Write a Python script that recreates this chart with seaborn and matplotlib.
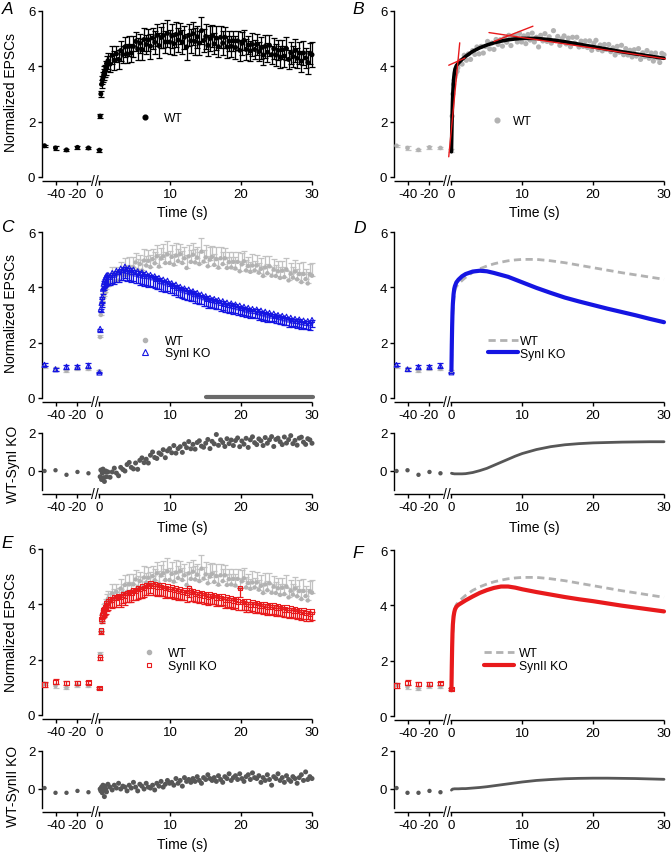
import numpy as np
import matplotlib
matplotlib.use("Agg")
import matplotlib.pyplot as plt
from matplotlib.lines import Line2D
import seaborn as sns

# ---------------- data ----------------
t_pre = [-50, -40, -30, -20, -10, 0]
t_pre_diff = [-50, -40, -30, -20, -10]
t_post = np.concatenate([np.round(np.arange(0.1, 1.01, 0.1), 1),
                         np.round(np.arange(1.2, 30.01, 0.3), 1)])
t_fit = [0, 0.05, 0.1, 0.15, 0.2, 0.3, 0.4, 0.5, 0.7, 1, 1.5, 2, 3, 4, 5, 6, 7, 8,
         9, 10, 12, 14, 16, 18, 20, 22, 24, 26, 28, 30]

wt_pre = [1.13, 1.05, 0.98, 1.07, 1.05, 0.97]
wt_pre_sem = [0.04, 0.06, 0.05, 0.04, 0.04, 0.06]
synI_pre = [1.2, 1.04, 1.13, 1.13, 1.17, 0.92]
synI_pre_sem = [0.05, 0.05, 0.07, 0.08, 0.1, 0.03]
synII_pre = [1.1, 1.2, 1.15, 1.15, 1.18, 0.98]
synII_pre_sem = [0.1, 0.09, 0.07, 0.08, 0.06, 0.03]
diff1_pre = [0.0, 0.04, -0.2, -0.05, -0.12]
diff2_pre = [0.05, -0.2, -0.2, -0.1, -0.17]

wt_mean = [2.2, 3.0, 3.35, 3.5, 3.6, 3.7, 3.8, 3.82, 3.95, 4.1,
           4.2, 4.08, 4.4, 4.22, 4.45, 4.25, 4.57, 4.43, 4.7, 4.45,
           4.72, 4.48, 4.72, 4.9, 4.63, 4.84, 4.61, 4.97, 4.79, 4.96,
           4.73, 5.02, 4.87, 5.12, 4.75, 5.04, 5.12, 4.88, 5.19, 4.88,
           5.1, 4.82, 5.15, 4.95, 5.2, 4.88, 5.05, 4.7, 5.12, 4.92,
           5.18, 4.9, 5.07, 4.84, 5.29, 4.93, 5.08, 4.76, 5.0, 5.1,
           4.81, 5.02, 4.71, 5.05, 4.84, 5.05, 4.7, 4.91, 4.72, 4.92,
           4.68, 4.92, 4.58, 4.83, 4.94, 4.61, 4.77, 4.56, 4.79, 4.61,
           4.79, 4.53, 4.67, 4.41, 4.72, 4.51, 4.76, 4.42, 4.64, 4.41,
           4.58, 4.34, 4.6, 4.37, 4.64, 4.25, 4.49, 4.35, 4.57, 4.29,
           4.48, 4.19, 4.48, 4.3, 4.14, 4.47, 4.42]
wt_sem = [0.08, 0.12, 0.15, 0.15, 0.18, 0.2, 0.2, 0.22, 0.25, 0.28,
          0.3, 0.28, 0.32, 0.35, 0.3, 0.33, 0.36, 0.3, 0.35, 0.34,
          0.36, 0.32, 0.38, 0.35, 0.4, 0.34, 0.38, 0.42, 0.36, 0.4,
          0.45, 0.38, 0.42, 0.4, 0.46, 0.38, 0.44, 0.4, 0.48, 0.42,
          0.44, 0.4, 0.46, 0.42, 0.38, 0.45, 0.41, 0.47, 0.4, 0.43,
          0.42, 0.48, 0.4, 0.44, 0.5, 0.41, 0.46, 0.38, 0.44, 0.4,
          0.38, 0.42, 0.36, 0.4, 0.44, 0.37, 0.41, 0.35, 0.39, 0.36,
          0.4, 0.34, 0.38, 0.42, 0.36, 0.39, 0.33, 0.37, 0.41, 0.35,
          0.38, 0.34, 0.4, 0.36, 0.42, 0.35, 0.38, 0.33, 0.37, 0.4,
          0.36, 0.39, 0.34, 0.38, 0.42, 0.35, 0.4, 0.37, 0.43, 0.36,
          0.4, 0.38, 0.44, 0.37, 0.41, 0.39, 0.45]
synI_mean = [2.5, 3.22, 3.44, 3.65, 3.95, 4.13, 4.22, 4.3, 4.36, 4.43,
             4.45, 4.38, 4.52, 4.46, 4.6, 4.55, 4.68, 4.62, 4.75, 4.6,
             4.7, 4.56, 4.64, 4.5, 4.58, 4.46, 4.54, 4.42, 4.5, 4.4,
             4.45, 4.36, 4.4, 4.3, 4.34, 4.22, 4.28, 4.18, 4.24, 4.12,
             4.15, 4.05, 4.1, 3.98, 4.02, 3.92, 3.96, 3.86, 3.92, 3.82,
             3.86, 3.75, 3.8, 3.7, 3.74, 3.64, 3.68, 3.58, 3.62, 3.54,
             3.58, 3.5, 3.54, 3.44, 3.5, 3.4, 3.45, 3.36, 3.42, 3.32,
             3.38, 3.28, 3.34, 3.25, 3.3, 3.2, 3.26, 3.16, 3.22, 3.14,
             3.2, 3.1, 3.16, 3.06, 3.12, 3.02, 3.08, 2.98, 3.05, 2.96,
             3.0, 2.92, 2.97, 2.88, 2.94, 2.84, 2.9, 2.8, 2.86, 2.78,
             2.84, 2.74, 2.8, 2.72, 2.78, 2.7, 2.82]
synI_sem = [0.1, 0.12, 0.15, 0.18, 0.2, 0.22, 0.25, 0.28, 0.3, 0.32,
            0.35, 0.3, 0.38, 0.33, 0.4, 0.36, 0.42, 0.35, 0.4, 0.38,
            0.42, 0.36, 0.4, 0.35, 0.44, 0.38, 0.41, 0.36, 0.43, 0.37,
            0.4, 0.35, 0.42, 0.36, 0.39, 0.34, 0.41, 0.36, 0.38, 0.33,
            0.37, 0.33, 0.39, 0.34, 0.36, 0.32, 0.38, 0.33, 0.36, 0.31,
            0.35, 0.31, 0.36, 0.32, 0.34, 0.3, 0.35, 0.31, 0.33, 0.3,
            0.34, 0.3, 0.33, 0.29, 0.32, 0.28, 0.33, 0.29, 0.31, 0.28,
            0.32, 0.28, 0.31, 0.27, 0.3, 0.27, 0.31, 0.28, 0.3, 0.26,
            0.3, 0.27, 0.29, 0.26, 0.3, 0.27, 0.29, 0.25, 0.28, 0.26,
            0.29, 0.26, 0.28, 0.25, 0.29, 0.26, 0.28, 0.25, 0.27, 0.25,
            0.28, 0.25, 0.27, 0.24, 0.27, 0.25, 0.26]
synII_mean = [2.08, 3.05, 3.47, 3.6, 3.71, 3.78, 3.83, 3.9, 3.95, 4.05,
              4.12, 4.2, 4.15, 4.25, 4.22, 4.3, 4.26, 4.36, 4.32, 4.4,
              4.45, 4.4, 4.52, 4.48, 4.58, 4.55, 4.64, 4.6, 4.7, 4.66,
              4.78, 4.68, 4.74, 4.65, 4.7, 4.62, 4.68, 4.58, 4.64, 4.56,
              4.62, 4.52, 4.58, 4.48, 4.55, 4.45, 4.52, 4.42, 4.6, 4.44,
              4.48, 4.38, 4.44, 4.35, 4.42, 4.32, 4.38, 4.28, 4.36, 4.3,
              4.34, 4.25, 4.3, 4.22, 4.28, 4.18, 4.25, 4.15, 4.22, 4.14,
              4.2, 4.1, 4.6, 4.08, 4.12, 4.02, 4.1, 4.0, 4.08, 4.0,
              4.05, 3.96, 4.02, 3.94, 4.0, 3.92, 3.98, 3.9, 3.96, 3.88,
              3.94, 3.86, 3.9, 3.82, 3.88, 3.8, 3.86, 3.78, 3.84, 3.76,
              3.8, 3.72, 3.78, 3.68, 3.76, 3.66, 3.74]
synII_sem = [0.1, 0.12, 0.15, 0.2, 0.22, 0.25, 0.26, 0.28, 0.3, 0.3,
             0.32, 0.28, 0.3, 0.34, 0.3, 0.33, 0.35, 0.3, 0.34, 0.32,
             0.36, 0.32, 0.38, 0.34, 0.37, 0.33, 0.4, 0.35, 0.38, 0.34,
             0.38, 0.34, 0.4, 0.35, 0.37, 0.33, 0.39, 0.34, 0.36, 0.33,
             0.37, 0.33, 0.36, 0.32, 0.35, 0.31, 0.36, 0.32, 0.34, 0.31,
             0.35, 0.31, 0.34, 0.3, 0.35, 0.31, 0.33, 0.3, 0.34, 0.3,
             0.33, 0.3, 0.34, 0.29, 0.32, 0.3, 0.33, 0.29, 0.32, 0.3,
             0.33, 0.29, 0.32, 0.3, 0.34, 0.29, 0.32, 0.28, 0.33, 0.3,
             0.32, 0.29, 0.33, 0.28, 0.31, 0.29, 0.32, 0.28, 0.31, 0.29,
             0.32, 0.28, 0.31, 0.29, 0.33, 0.28, 0.31, 0.29, 0.32, 0.28,
             0.31, 0.28, 0.32, 0.29, 0.3, 0.28, 0.31]
diff1 = [-0.3, 0.05, -0.45, -0.1, 0.1, -0.35, -0.55, -0.05, 0.0, -0.3,
         -0.05, -0.33, -0.05, 0.15, -0.11, -0.25, 0.19, 0.08, 0.0, 0.34,
         0.45, 0.19, 0.11, 0.42, 0.09, 0.56, 0.69, 0.44, 0.62, 0.42,
         0.83, 1.0, 0.71, 0.66, 0.95, 0.87, 1.12, 0.7, 1.06, 1.18,
         0.96, 1.34, 0.94, 1.18, 1.28, 0.98, 1.42, 1.23, 1.55, 1.17,
         1.4, 1.15, 1.5, 1.59, 1.31, 1.25, 1.46, 1.66, 1.18, 1.56,
         1.43, 1.92, 1.35, 1.64, 1.5, 1.29, 1.7, 1.44, 1.63, 1.34,
         1.6, 1.74, 1.28, 1.58, 1.41, 1.72, 1.24, 1.64, 1.8, 1.49,
         1.39, 1.69, 1.59, 1.34, 1.76, 1.46, 1.64, 1.81, 1.29, 1.66,
         1.73, 1.54, 1.39, 1.79, 1.47, 1.65, 1.86, 1.44, 1.61, 1.36,
         1.73, 1.78, 1.52, 1.4, 1.7, 1.64, 1.46]
diff2 = [0.0, -0.1, 0.1, -0.2, 0.2, -0.05, -0.4, 0.15, 0.0, -0.15,
         0.25, 0.1, -0.05, 0.2, 0.05, 0.3, 0.0, 0.15, 0.1, -0.1,
         0.2, 0.05, 0.35, 0.1, -0.1, 0.25, 0.15, 0.0, 0.3, 0.1,
         0.05, 0.2, -0.05, 0.3, 0.15, 0.4, 0.1, 0.25, 0.45, 0.3,
         0.35, 0.2, 0.55, 0.3, 0.45, 0.15, 0.6, 0.4, 0.5, 0.35,
         0.55, 0.4, 0.65, 0.45, 0.3, 0.6, 0.5, 0.75, 0.55, 0.45,
         0.6, 0.4, 0.7, 0.5, 0.35, 0.65, 0.55, 0.8, 0.45, 0.6,
         0.7, 0.5, 0.8, 0.55, 0.4, 0.65, 0.75, 0.5, 0.85, 0.6,
         0.55, 0.7, 0.35, 0.6, 0.45, 0.75, 0.5, 0.2, 0.65, 0.55,
         0.8, 0.45, 0.6, 0.35, 0.7, 0.5, 0.4, 0.65, 0.55, 0.3,
         0.6, 0.75, 0.45, 0.9, 0.5, 0.65, 0.55]

wt_fit = [0.91, 1.6, 2.2, 2.7, 3.05, 3.5, 3.75, 3.9, 4.03, 4.12, 4.25, 4.36, 4.54,
          4.67, 4.77, 4.85, 4.91, 4.96, 4.99, 5.01, 5.01, 4.96, 4.89, 4.8, 4.71,
          4.62, 4.53, 4.45, 4.37, 4.29]
synI_fit = [1.0, 1.9, 2.6, 3.1, 3.4, 3.75, 3.95, 4.05, 4.18, 4.28, 4.4, 4.48, 4.57,
            4.6, 4.58, 4.52, 4.45, 4.38, 4.28, 4.18, 3.98, 3.8, 3.63, 3.49, 3.36,
            3.23, 3.11, 2.99, 2.86, 2.74]
synII_fit = [0.93, 1.8, 2.5, 3.0, 3.3, 3.6, 3.75, 3.85, 3.95, 4.02, 4.1, 4.18, 4.32,
             4.45, 4.55, 4.63, 4.68, 4.68, 4.64, 4.58, 4.48, 4.39, 4.3, 4.22, 4.15,
             4.07, 3.99, 3.92, 3.85, 3.78]
diff1_fit = [-0.12, -0.12, -0.13, -0.13, -0.14, -0.14, -0.15, -0.15, -0.15, -0.15,
             -0.15, -0.14, -0.08, 0.02, 0.14, 0.3, 0.46, 0.62, 0.78, 0.92, 1.13,
             1.28, 1.38, 1.44, 1.48, 1.5, 1.52, 1.53, 1.54, 1.54]
diff2_fit = [-0.06, -0.04, -0.02, -0.01, 0.0, 0.0, 0.01, 0.01, 0.01, 0.01, 0.02,
             0.02, 0.05, 0.08, 0.12, 0.17, 0.22, 0.27, 0.32, 0.37, 0.45, 0.5, 0.54,
             0.56, 0.57, 0.57, 0.56, 0.55, 0.53, 0.51]

# tangent lines of the WT fit (panel B)
tan1_t, tan1_y = [-2.45, 1.17], [0.73, 4.85]
tan2_t, tan2_y = [-2.45, 1.9], [4.04, 4.3]
tan3_t, tan3_y = [6.0, 11.5], [4.9, 5.45]
tan4_t, tan4_y = [5.3, 30.2], [5.22, 4.27]
sig_range = [15, 30.2]

x_ticks = [-40, -20, 0, 10, 20, 30]
x_ticklabels = ["-40", "-20", "0", "10", "20", "30"]

for arr in (wt_mean, wt_sem, synI_mean, synI_sem, synII_mean, synII_sem, diff1, diff2):
    assert len(arr) == len(t_post), len(arr)

# ---------------- style ----------------
sns.set_theme(style="ticks")
plt.rcParams["font.family"] = ["Liberation Sans", "DejaVu Sans"]
plt.rcParams["axes.unicode_minus"] = False
plt.rcParams["axes.edgecolor"] = "black"
plt.rcParams["xtick.color"] = "black"
plt.rcParams["ytick.color"] = "black"
plt.rcParams["text.color"] = "black"

BLACK = "#000000"
GRAY = "#b2b2b2"
GRAY_ERR = "#c2c2c2"
DARK = "#575757"
BLUE = "#1515e2"
RED = "#e81a1c"

W, H = 672, 854
fig = plt.figure(figsize=(W / 100, H / 100), dpi=100)
fig.patch.set_facecolor("white")

K = 0.155
XMIN, XMAX = -52.3, 30


def fwd(t):
    t = np.asarray(t, dtype=float)
    return np.where(t < 0, t * K, t)


def inv(u):
    u = np.asarray(u, dtype=float)
    return np.where(u < 0, u / K, u)


def add_ax(l, t, r, b):
    ax = fig.add_axes([l / W, 1 - b / H, (r - l) / W, (b - t) / H])
    ax.set_facecolor("none")
    return ax


def finish(ax, ymin, ymax, yticks):
    ax.set_xscale("function", functions=(fwd, inv))
    ax.set_xlim(XMIN, XMAX)
    ax.set_ylim(ymin, ymax)
    ax.set_xticks(x_ticks)
    ax.set_xticklabels(x_ticklabels)
    ax.set_yticks(yticks)
    ax.set_yticklabels([str(v) for v in yticks])
    ax.set_xlabel("")
    ax.set_ylabel("")
    ax.spines["top"].set_visible(False)
    ax.spines["right"].set_visible(False)
    ax.spines["left"].set_bounds(ymin, ymax)
    ax.spines["left"].set_linewidth(1.0)
    ax.spines["bottom"].set_position(("outward", 3.2))
    ax.spines["bottom"].set_visible(False)
    ax.tick_params(axis="both", direction="out", length=3.0, width=1.0,
                   labelsize=9.5, pad=1.8, colors="black")
    tr = ax.get_xaxis_transform(which="tick1")
    ax.plot([XMIN, -7.7], [0, 0], transform=tr, color="black", lw=1.0,
            clip_on=False, solid_capstyle="butt")
    ax.plot([-0.9, XMAX], [0, 0], transform=tr, color="black", lw=1.0,
            clip_on=False, solid_capstyle="butt")
    ax.text(-4.1, 0, "//", transform=tr, ha="center", va="center",
            fontsize=10, color="black")


def pts(ax, x, y, color, marker="o", s=10, open_=False, lw=0.8):
    if open_:
        sns.scatterplot(x=np.asarray(x, float), y=np.asarray(y, float), ax=ax,
                        color=color, marker=marker, s=s, facecolor="none",
                        edgecolor=color, linewidth=lw, legend=False,
                        clip_on=False, zorder=3)
    else:
        sns.scatterplot(x=np.asarray(x, float), y=np.asarray(y, float), ax=ax,
                        color=color, marker=marker, s=s, edgecolor="none",
                        legend=False, clip_on=False, zorder=3)


def ebar(ax, x, y, err, color, side="both", cap=2.2, zorder=2):
    err = np.asarray(err, float)
    if side == "up":
        yerr = [np.zeros_like(err), err]
    elif side == "down":
        yerr = [err, np.zeros_like(err)]
    else:
        yerr = err
    ax.errorbar(x, y, yerr=yerr, fmt="none", ecolor=color, elinewidth=0.9,
                capsize=cap, capthick=0.9, clip_on=False, zorder=zorder)


def line(ax, x, y, color, lw, ls="-", zorder=4):
    sns.lineplot(x=np.asarray(x, float), y=np.asarray(y, float), ax=ax,
                 color=color, lw=lw, linestyle=ls, estimator=None,
                 legend=False, clip_on=False, zorder=zorder)


def legend(ax, handles, labels, x, y, hl, pad, spacing=0.0):
    ax.legend(handles, labels, loc="center left", bbox_to_anchor=(x, y),
              frameon=False, handlelength=hl, handletextpad=pad, borderpad=0,
              borderaxespad=0, labelspacing=spacing, fontsize=8.7)


COL1 = (42, 312)
COL2 = (394, 664)

# ---------------- A ----------------
axA = add_ax(COL1[0], 12, COL1[1], 178)
ebar(axA, t_pre, wt_pre, wt_pre_sem, BLACK)
ebar(axA, t_post, wt_mean, wt_sem, BLACK)
pts(axA, t_pre, wt_pre, BLACK, s=13)
pts(axA, t_post, wt_mean, BLACK, s=13)
finish(axA, 0, 6, [0, 2, 4, 6])
legend(axA, [Line2D([], [], ls="none", marker="o", color=BLACK, ms=3.4)], ["WT"],
       0.359, 0.355, 1.0, 1.05)

# ---------------- B ----------------
axB = add_ax(COL2[0], 12, COL2[1], 178)
ebar(axB, t_pre, wt_pre, wt_pre_sem, GRAY_ERR)
pts(axB, t_pre, wt_pre, GRAY, s=11)
pts(axB, t_post, wt_mean, GRAY, s=14)
line(axB, t_fit, wt_fit, BLACK, 2.6)
for tt, yy in ((tan1_t, tan1_y), (tan2_t, tan2_y), (tan3_t, tan3_y), (tan4_t, tan4_y)):
    line(axB, tt, yy, RED, 1.0, zorder=5)
finish(axB, 0, 6, [0, 2, 4, 6])
legend(axB, [Line2D([], [], ls="none", marker="o", color=GRAY, ms=3.4)], ["WT"],
       0.359, 0.337, 1.0, 0.85)

# ---------------- C ----------------
axC = add_ax(COL1[0], 233, COL1[1], 399)
ebar(axC, t_pre, wt_pre, wt_pre_sem, GRAY_ERR)
ebar(axC, t_post, wt_mean, wt_sem, GRAY_ERR, side="up")
pts(axC, t_pre, wt_pre, GRAY, s=10)
pts(axC, t_post, wt_mean, GRAY, s=10)
ebar(axC, t_pre, synI_pre, synI_pre_sem, BLUE, zorder=4)
ebar(axC, t_post, synI_mean, synI_sem, BLUE, side="down", zorder=4)
pts(axC, t_pre, synI_pre, BLUE, marker="^", s=13, open_=True)
pts(axC, t_post, synI_mean, BLUE, marker="^", s=13, open_=True)
line(axC, sig_range, [0.04, 0.04], "#6a6a6a", 3.0)
finish(axC, 0, 6, [0, 2, 4, 6])
legend(axC, [Line2D([], [], ls="none", marker="o", color=GRAY, ms=3.0),
             Line2D([], [], ls="none", marker="^", mfc="none", mec=BLUE, mew=0.8, ms=3.8)],
       ["WT", "SynI KO"], 0.359, 0.307, 1.0, 1.15, spacing=-0.05)

axCs = add_ax(COL1[0], 434, COL1[1], 491)
pts(axCs, t_pre_diff, diff1_pre, DARK, s=10)
pts(axCs, t_post, diff1, DARK, s=13)
finish(axCs, -1, 2, [0, 2])

# ---------------- D ----------------
axD = add_ax(COL2[0], 233, COL2[1], 399)
ebar(axD, t_pre, wt_pre, wt_pre_sem, GRAY_ERR)
pts(axD, t_pre, wt_pre, GRAY, s=10)
ebar(axD, t_pre, synI_pre, synI_pre_sem, BLUE, zorder=4)
pts(axD, t_pre, synI_pre, BLUE, marker="^", s=11, open_=True)
line(axD, t_fit, wt_fit, GRAY, 2.0, ls=(0, (2.6, 1.6)))
line(axD, t_fit, synI_fit, BLUE, 3.0, zorder=5)
finish(axD, 0, 6, [0, 2, 4, 6])
legend(axD, [Line2D([], [], color=GRAY, lw=2.0, ls=(0, (2.6, 1.6))),
             Line2D([], [], color=BLUE, lw=3.0)],
       ["WT", "SynI KO"], 0.348, 0.305, 2.5, 0.15, spacing=0.05)

axDs = add_ax(COL2[0], 434, COL2[1], 491)
pts(axDs, t_pre_diff, diff1_pre, DARK, s=10)
line(axDs, t_fit, diff1_fit, DARK, 2.0)
finish(axDs, -1, 2, [0, 2])

# ---------------- E ----------------
axE = add_ax(COL1[0], 550, COL1[1], 716)
ebar(axE, t_pre, wt_pre, wt_pre_sem, GRAY_ERR)
ebar(axE, t_post, wt_mean, wt_sem, GRAY_ERR, side="up")
pts(axE, t_pre, wt_pre, GRAY, s=10)
pts(axE, t_post, wt_mean, GRAY, s=10)
ebar(axE, t_pre, synII_pre, synII_pre_sem, RED, zorder=4)
ebar(axE, t_post, synII_mean, synII_sem, RED, side="down", zorder=4)
pts(axE, t_pre, synII_pre, RED, marker="s", s=10, open_=True)
pts(axE, t_post, synII_mean, RED, marker="s", s=10, open_=True)
finish(axE, 0, 6, [0, 2, 4, 6])
legend(axE, [Line2D([], [], ls="none", marker="o", color=GRAY, ms=3.0),
             Line2D([], [], ls="none", marker="s", mfc="none", mec=RED, mew=0.8, ms=3.3)],
       ["WT", "SynII KO"], 0.374, 0.334, 1.0, 1.1, spacing=0.05)

axEs = add_ax(COL1[0], 752, COL1[1], 809)
pts(axEs, t_pre_diff, diff2_pre, DARK, s=10)
pts(axEs, t_post, diff2, DARK, s=13)
finish(axEs, -1, 2, [0, 2])

# ---------------- F ----------------
axF = add_ax(COL2[0], 551, COL2[1], 717)
ebar(axF, t_pre, wt_pre, wt_pre_sem, GRAY_ERR)
pts(axF, t_pre, wt_pre, GRAY, s=10)
ebar(axF, t_pre, synII_pre, synII_pre_sem, RED, zorder=4)
pts(axF, t_pre, synII_pre, RED, marker="s", s=9, open_=True)
line(axF, t_fit, wt_fit, GRAY, 2.0, ls=(0, (2.6, 1.6)))
line(axF, t_fit, synII_fit, RED, 3.0, zorder=5)
finish(axF, 0, 6, [0, 2, 4, 6])
legend(axF, [Line2D([], [], color=GRAY, lw=2.0, ls=(0, (2.6, 1.6))),
             Line2D([], [], color=RED, lw=3.0)],
       ["WT", "SynII KO"], 0.333, 0.34, 2.5, 0.4, spacing=0.05)

axFs = add_ax(COL2[0], 752, COL2[1], 809)
pts(axFs, t_pre_diff, diff2_pre, DARK, s=10)
line(axFs, t_fit, diff2_fit, DARK, 2.0)
finish(axFs, -1, 2, [0, 2])

# ---------------- labels ----------------
def ftext(x, y, s, **kw):
    fig.text(x / W, 1 - y / H, s, **kw)

for (x, y, s) in ((8, 9, "A"), (358, 9, "B"), (7, 228, "C"), (360, 229, "D"),
                  (7, 544, "E"), (358, 553, "F")):
    ftext(x, y, s, fontsize=12.5, style="italic", ha="center", va="center")

for y in (92, 314, 632):
    ftext(11, y, "Normalized EPSCs", fontsize=10, rotation=90, ha="center", va="center")
ftext(13, 464, "WT-SynI KO", fontsize=10, rotation=90, ha="center", va="center")
ftext(13, 786, "WT-SynII KO", fontsize=10, rotation=90, ha="center", va="center")

for (x, y) in ((182, 213), (534, 213), (182, 528), (534, 528), (182, 845), (534, 845)):
    ftext(x, y, "Time (s)", fontsize=10, ha="center", va="center")

fig.savefig("out.png", dpi=100)
